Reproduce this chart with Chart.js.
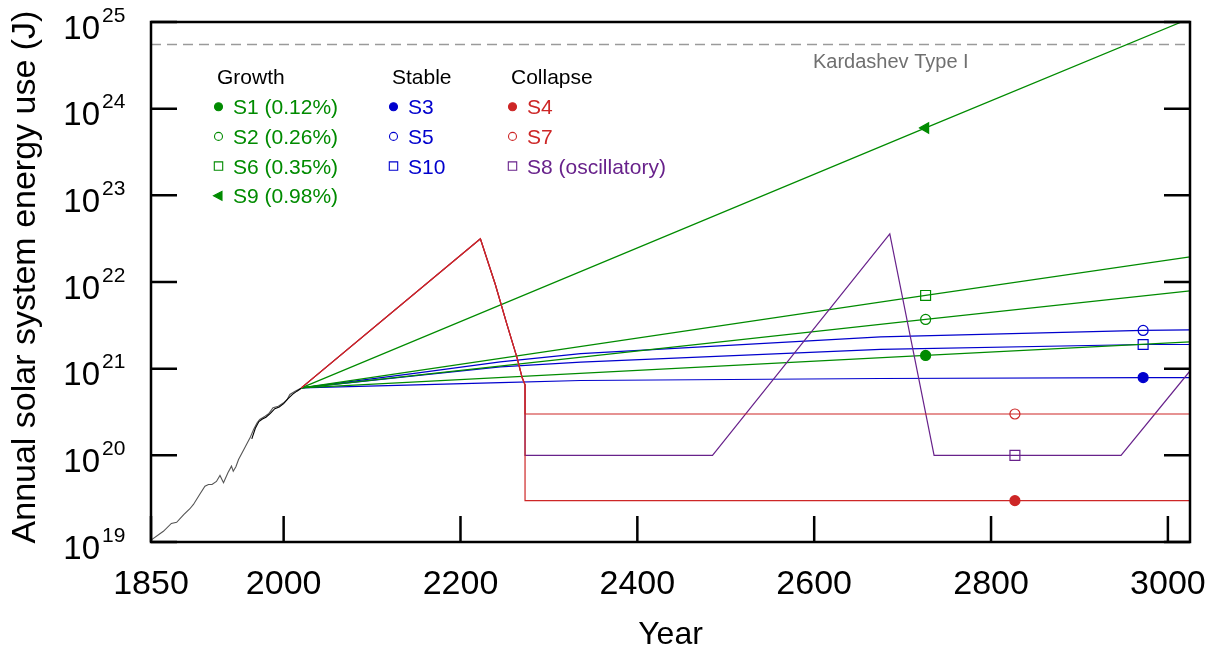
<!DOCTYPE html>
<html>
<head>
<meta charset="utf-8">
<script src="https://cdn.jsdelivr.net/npm/chart.js@4.4.1/dist/chart.umd.min.js"></script>
<style>
  body { margin: 0; background: #fff; }
  #wrap { width: 1215px; height: 648px; }
</style>
</head>
<body>
<div id="wrap"><canvas id="energy_chart"></canvas></div>
<script>
// historical record (grey) and recent record (black)
const histYears = [1850, 1864, 1873, 1879, 1887, 1894, 1898, 1905, 1911, 1915, 1919, 1924, 1928, 1932,
  1937, 1941, 1943, 1946, 1949, 1955, 1962, 1966, 1970, 1973, 1979, 1983, 1988, 1994, 2000, 2004, 2007, 2013, 2020];
const histGrey = [1.05e19, 1.33e19, 1.64e19, 1.69e19, 2.07e19, 2.42e19, 2.71e19, 3.53e19, 4.41e19, 4.6e19, 4.6e19,
  5.0e19, 5.85e19, 4.82e19, 6.3e19, 7.5e19, 6.56e19, 7.4e19, 8.95e19, 1.17e20, 1.59e20, 1.99e20, 2.38e20, 2.59e20,
  2.83e20, 3.02e20, 3.54e20, 3.69e20, 4.04e20, 4.41e20, 5.04e20, 5.5e20, 6.0e20];
const recentYears = [1964, 1968, 1972, 1976, 1980, 1985, 1990, 1995, 2000, 2005, 2010, 2015, 2020];
const recentBlack = [1.55e20, 2.05e20, 2.45e20, 2.62e20, 2.75e20, 3.05e20, 3.45e20, 3.62e20, 3.95e20, 4.5e20, 5.05e20, 5.5e20, 5.95e20];

// growth scenarios
const growthYears = [2020, 2726, 3025];
const s1 = [6.0e20, 1.42e21, 2.04e21];
const s2 = [6.0e20, 3.7e21, 7.9e21];
const s6 = [6.0e20, 7.0e21, 1.95e22];
const s9 = [6.0e20, 6.0e23, 1.1e25];

// stable scenarios
const stableYears = [2020, 2150, 2245, 2336, 2675, 2972, 3025];
const s3 = [6.0e20, 6.5e20, 6.9e20, 7.3e20, 7.7e20, 7.9e20, 7.9e20];
const s10 = [6.0e20, 8.3e20, 1.05e21, 1.19e21, 1.67e21, 1.9e21, 1.9e21];
const s5 = [6.0e20, 8.9e20, 1.2e21, 1.49e21, 2.33e21, 2.76e21, 2.8e21];

// collapse scenarios: shared boom and bust, then separate tails
const boomYears = [2020, 2222.5, 2239.4, 2252.7, 2264, 2269.7, 2273];
const boomValues = [6.0e20, 3.15e22, 9.35e21, 3.2e21, 1.33e21, 7.9e20, 6.5e20];
const tailYears = [2273, 2827, 3025];
const s4Tail = [3.0e19, 3.0e19, 3.0e19];
const s7Tail = [3.0e20, 3.0e20, 3.0e20];
const s8TailYears = [2273, 2485, 2685.5, 2735.6, 2827, 2947, 3025];
const s8Tail = [1.0e20, 1.0e20, 3.6e22, 1.0e20, 1.0e20, 1.0e20, 9.4e20];

const kardashevType1 = 5.5e24;
const growthMarkYear = 2726, stableMarkYear = 2972, collapseMarkYear = 2827;

const xTicks = [1850, 2000, 2200, 2400, 2600, 2800, 3000];
const yPowers = [19, 20, 21, 22, 23, 24, 25];

const GREEN = '#008B00', BLUE = '#0000CD', RED = '#CD2626', PURPLE = '#68228B';

function pts(years, values) {
  return years.map((yr, i) => ({x: yr, y: values[i]}));
}

function series(label, data, color, markYear, style, filled) {
  const r = style === 'rect' ? 7 : (style === 'triangle' ? 6 : 5);
  return {
    label: label,
    data: data,
    borderColor: color,
    borderWidth: 1.2,
    pointStyle: style || 'circle',
    pointRotation: style === 'triangle' ? -90 : 0,
    pointRadius: data.map(p => p.x === markYear ? r : 0),
    pointBorderWidth: 1.2,
    pointBorderColor: color,
    pointBackgroundColor: filled ? color : 'rgba(0,0,0,0)',
    tension: 0
  };
}

const datasets = [
  series('S4', pts(boomYears, boomValues).concat(pts(tailYears, s4Tail)), RED, collapseMarkYear, 'circle', true),
  series('S7', pts(boomYears, boomValues).concat(pts(tailYears, s7Tail)), RED, collapseMarkYear, 'circle', false),
  series('S8', pts(boomYears, boomValues).concat(pts(s8TailYears, s8Tail)), PURPLE, collapseMarkYear, 'rect', false),
  series('S9', pts(growthYears, s9), GREEN, growthMarkYear, 'triangle', true),
  series('S6', pts(growthYears, s6), GREEN, growthMarkYear, 'rect', false),
  series('S2', pts(growthYears, s2), GREEN, growthMarkYear, 'circle', false),
  series('S1', pts(growthYears, s1), GREEN, growthMarkYear, 'circle', true),
  series('S5', pts(stableYears, s5), BLUE, stableMarkYear, 'circle', false),
  series('S10', pts(stableYears, s10), BLUE, stableMarkYear, 'rect', false),
  series('S3', pts(stableYears, s3), BLUE, stableMarkYear, 'circle', true),
  {label: 'Kardashev Type I', data: [{x: 1850, y: kardashevType1}, {x: 3025, y: kardashevType1}],
    borderColor: '#9a9a9a', borderWidth: 1.4, borderDash: [10, 6], pointRadius: 0},
  {label: 'recent', data: pts(recentYears, recentBlack), borderColor: '#000', borderWidth: 1.1, pointRadius: 0},
  {label: 'historical', data: pts(histYears, histGrey), borderColor: '#555', borderWidth: 1.1, pointRadius: 0}
];

// legend rows: [text, colour, marker, filled]
const legendCols = [
  {head: 'Growth', x: 218.5, rows: [['S1 (0.12%)', GREEN, 'circle', true], ['S2 (0.26%)', GREEN, 'circle', false],
    ['S6 (0.35%)', GREEN, 'rect', false], ['S9 (0.98%)', GREEN, 'triangle', true]]},
  {head: 'Stable', x: 393.5, rows: [['S3', BLUE, 'circle', true], ['S5', BLUE, 'circle', false], ['S10', BLUE, 'rect', false]]},
  {head: 'Collapse', x: 512.5, rows: [['S4', RED, 'circle', true], ['S7', RED, 'circle', false], ['S8 (oscillatory)', PURPLE, 'rect', false]]}
];

function marker(ctx, style, x, y, color, filled) {
  ctx.save();
  ctx.strokeStyle = color; ctx.fillStyle = color; ctx.lineWidth = 1.1;
  ctx.beginPath();
  if (style === 'circle') ctx.arc(x, y, 4, 0, Math.PI * 2);
  else if (style === 'rect') ctx.rect(x - 4.2, y - 4.2, 8.4, 8.4);
  else { ctx.moveTo(x - 5, y); ctx.lineTo(x + 3.5, y - 4.5); ctx.lineTo(x + 3.5, y + 4.5); ctx.closePath(); }
  if (filled) ctx.fill();
  ctx.stroke();
  ctx.restore();
}

const decorations = {
  id: 'decorations',
  afterDraw(chart) {
    const {ctx, chartArea: a, scales: {x, y}} = chart;
    ctx.save();
    // frame and inward ticks
    ctx.strokeStyle = '#000';
    ctx.lineWidth = 2.5;
    ctx.strokeRect(a.left, a.top, a.right - a.left, a.bottom - a.top);
    ctx.beginPath();
    xTicks.forEach(t => {
      const px = x.getPixelForValue(t);
      ctx.moveTo(px, a.bottom); ctx.lineTo(px, a.bottom - 26);
    });
    yPowers.forEach(p => {
      const py = y.getPixelForValue(Math.pow(10, p));
      ctx.moveTo(a.left, py); ctx.lineTo(a.left + 26, py);
      ctx.moveTo(a.right, py); ctx.lineTo(a.right - 26, py);
    });
    ctx.stroke();

    // tick labels
    ctx.fillStyle = '#000';
    ctx.textBaseline = 'alphabetic';
    ctx.font = '34px "Liberation Sans", Arial, sans-serif';
    ctx.textAlign = 'center';
    xTicks.forEach(t => ctx.fillText(String(t), x.getPixelForValue(t), 594));
    yPowers.forEach(p => {
      const py = y.getPixelForValue(Math.pow(10, p));
      ctx.font = '33px "Liberation Sans", Arial, sans-serif';
      ctx.textAlign = 'right';
      ctx.fillText('10', 100, py + 16.8);
      ctx.font = '21px "Liberation Sans", Arial, sans-serif';
      ctx.textAlign = 'left';
      ctx.fillText(String(p), 102, py - 0.3);
    });

    // axis titles
    ctx.font = '32px "Liberation Sans", Arial, sans-serif';
    ctx.textAlign = 'center';
    ctx.fillText('Year', (a.left + a.right) / 2, 644);
    ctx.save();
    ctx.translate(35, 277);
    ctx.rotate(-Math.PI / 2);
    ctx.font = '34px "Liberation Sans", Arial, sans-serif';
    ctx.fillText('Annual solar system energy use (J)', 0, 0);
    ctx.restore();

    // Kardashev label
    ctx.font = '20px "Liberation Sans", Arial, sans-serif';
    ctx.textAlign = 'left';
    ctx.fillStyle = '#707070';
    ctx.fillText('Kardashev Type I', 813, 67.5);

    // grouped legend
    ctx.font = '21px "Liberation Sans", Arial, sans-serif';
    legendCols.forEach(col => {
      ctx.fillStyle = '#000';
      ctx.fillText(col.head, col.x - 1.5, 83.5);
      col.rows.forEach((r, i) => {
        const ry = 106.7 + i * 29.7;
        marker(ctx, r[2], col.x, ry, r[1], r[3]);
        ctx.fillStyle = r[1];
        ctx.fillText(r[0], col.x + 14.5, ry + 7.5);
      });
    });
    ctx.restore();
  }
};

new Chart(document.getElementById('energy_chart'), {
  type: 'line',
  data: {datasets: datasets},
  options: {
    responsive: true,
    maintainAspectRatio: false,
    animation: false,
    events: [],
    layout: {padding: {left: 151, right: 25, top: 22, bottom: 106}},
    scales: {
      x: {type: 'linear', min: 1850, max: 3025, display: false},
      y: {type: 'logarithmic', min: 1e19, max: 1e25, display: false}
    },
    plugins: {legend: {display: false}, tooltip: {enabled: false}}
  },
  plugins: [decorations]
});
</script>
</body>
</html>
